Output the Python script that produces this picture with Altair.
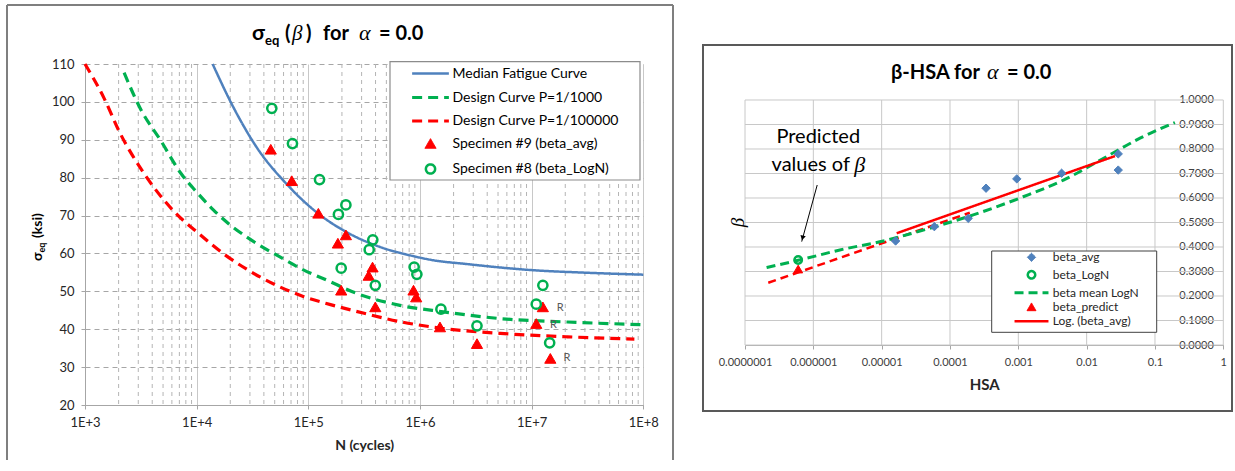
import json
import altair as alt
import pandas as pd

# ---------------- left panel data ----------------
left_series = ["Median Fatigue Curve", "Design Curve P=1/1000", "Design Curve P=1/100000",
               "Specimen #9 (beta_avg)", "Specimen #8 (beta_LogN)"]

median_N = [1.39e4, 2.14e4, 3.45e4, 6.4e4, 1.23e5, 2.21e5, 4.4e5, 8.7e5, 1.26e6, 2.63e6, 1.0e7, 3.16e7, 1.0e8]
median_S = [110, 98.5, 88.0, 78.3, 70.5, 65.6, 61.7, 59.3, 58.3, 57.2, 55.6, 54.9, 54.4]

design1000_N = [2.24e3, 3.16e3, 4.79e3, 7.08e3, 1.0e4, 1.41e4, 2.0e4, 2.82e4, 5.62e4, 9.12e4,
                1.48e5, 2.63e5, 6.61e5, 1.62e6, 5.25e6, 2.09e7, 1.0e8]
design1000_S = [107.7, 98, 89.7, 81.5, 76.2, 71.5, 67.5, 64.3, 59.0, 55.6, 52.9, 49.6, 46.3, 44.6, 42.8, 41.9, 41.2]

design100000_N = [1.0e3, 1.48e3, 2.04e3, 3.31e3, 6.31e3, 1.07e4, 1.82e4, 2.82e4, 5.01e4, 9.12e4,
                  1.58e5, 3.16e5, 6.61e5, 1.62e6, 5.25e6, 2.09e7, 8.32e7]
design100000_S = [110, 101, 92, 81.5, 71, 65, 59.5, 55.8, 51.8, 48.6, 46.5, 44.2, 42.0, 40.2, 38.9, 38.0, 37.4]

spec9_N = [4.61e4, 7.11e4, 1.23e5, 1.84e5, 2.17e5, 1.97e5, 3.47e5, 3.76e5, 3.98e5, 8.75e5,
           9.25e5, 1.51e6, 3.24e6, 1.10e7, 1.26e7, 1.47e7]
spec9_S = [87.5, 79.2, 70.6, 62.7, 64.9, 50.3, 54.2, 56.4, 45.9, 50.3, 48.5, 40.6, 36.2, 41.5, 45.9, 32.3]

spec8_N = [4.71e4, 7.21e4, 1.26e5, 1.86e5, 2.17e5, 3.51e5, 3.78e5, 1.97e5, 3.98e5, 8.87e5,
           9.38e5, 1.54e6, 3.24e6, 1.10e7, 1.26e7, 1.45e7]
spec8_S = [98.3, 89.0, 79.5, 70.3, 72.8, 61.0, 63.6, 56.1, 51.6, 56.4, 54.5, 45.3, 40.9, 46.6, 51.6, 36.4]

runout_N = [1.80e7, 1.57e7, 2.07e7]
runout_S = [45.7, 41.2, 32.3]
runout_text = ["R", "R", "R"]

left_x_ticks = [1e3, 1e4, 1e5, 1e6, 1e7, 1e8]
left_minor_ticks = [m * 10 ** k for k in range(3, 8) for m in range(2, 10)]
left_y_ticks = [20, 30, 40, 50, 60, 70, 80, 90, 100, 110]

# ---------------- right panel data ----------------
right_series = ["beta_avg", "beta_LogN", "beta mean LogN", "beta_predict", "Log. (beta_avg)"]

avg_HSA = [1.6e-5, 5.9e-5, 1.85e-4, 3.37e-4, 9.5e-4, 4.3e-3, 2.9e-2, 2.9e-2]
avg_beta = [0.4245, 0.483, 0.517, 0.640, 0.678, 0.701, 0.780, 0.714]
logn_HSA = [6.0e-7]
logn_beta = [0.347]
predict_HSA = [6.0e-7]
predict_beta = [0.31]
mean_logn_HSA = [2.07e-7, 8.0e-7, 2.45e-6, 1.06e-5, 4.07e-5, 2.19e-4, 1.18e-3, 4.57e-3, 1.96e-2, 6.04e-2, 1.96e-1]
mean_logn_beta = [0.316, 0.354, 0.388, 0.4245, 0.469, 0.531, 0.605, 0.673, 0.769, 0.844, 0.908]
trend_HSA = [1.66e-5, 2.6e-2]
trend_beta = [0.456, 0.771]
predict_line_HSA = [2.19e-7, 1.95e-4]
predict_line_beta = [0.254, 0.54]

right_x_ticks = [1e-7, 1e-6, 1e-5, 1e-4, 1e-3, 1e-2, 1e-1, 1]
right_x_labels = ["0.0000001", "0.000001", "0.00001", "0.0001", "0.001", "0.01", "0.1", "1"]
right_y_ticks = [0.0, 0.1, 0.2, 0.3, 0.4, 0.5, 0.6, 0.7, 0.8, 0.9, 1.0]
right_grid_bottom = 0.0
right_grid_top = 1.0

annot_HSA = [1.18e-6]
annot_line1_beta = [0.85]
annot_line2_beta = [0.735]
arrow_HSA = [1.14e-6]
arrow_beta = [0.653]
arrow_end_HSA = [6.76e-7]
arrow_end_beta = [0.422]
arrow_head_HSA = [6.95e-7]
arrow_head_beta = [0.437]

# ---------------- styling ----------------
FONT = "Lato, 'Noto Sans', sans-serif"
GREEK_IT = "'Liberation Serif', 'DejaVu Serif', serif"
BLUE = "#4f81bd"
GREEN = "#00b050"
RED = "#ff0000"
one = pd.DataFrame({"k": [0]})


def txt(s, x, y, size, weight="normal", style="normal", font=FONT, align="left",
        angle=0, color="black", baseline="alphabetic"):
    return alt.Chart(one).mark_text(
        text=s, align=align, baseline=baseline, font=font, fontSize=size,
        fontWeight=weight, fontStyle=style, angle=angle, color=color
    ).encode(x=alt.value(x), y=alt.value(y))


def hrule(x1, x2, y, color, w, opacity=1):
    return alt.Chart(one).mark_rule(color=color, strokeWidth=w, strokeOpacity=opacity).encode(
        x=alt.value(x1), x2=alt.value(x2), y=alt.value(y))


def vrule(x, y1, y2, color, w, opacity=1):
    return alt.Chart(one).mark_rule(color=color, strokeWidth=w, strokeOpacity=opacity).encode(
        x=alt.value(x), y=alt.value(y1), y2=alt.value(y2))


def box(x1, y1, x2, y2, fill, stroke, w):
    return alt.Chart(one).mark_rect(fill=fill, stroke=stroke, strokeWidth=w).encode(
        x=alt.value(x1), x2=alt.value(x2), y=alt.value(y1), y2=alt.value(y2))


# ================= LEFT PANEL =================
def long(series, xs, ys):
    return [{"series": series, "N": x, "S": y} for x, y in zip(xs, ys)]

left_lines_df = pd.DataFrame(
    long(left_series[0], median_N, median_S)
    + long(left_series[1], design1000_N, design1000_S)
    + long(left_series[2], design100000_N, design100000_S))
left_pts_df = pd.DataFrame(
    long(left_series[3], spec9_N, spec9_S) + long(left_series[4], spec8_N, spec8_S))
runout_df = pd.DataFrame({"N": runout_N, "S": runout_S, "t": runout_text})
minor_df = pd.DataFrame({"N": left_minor_ticks})

LX = alt.X("N:Q", scale=alt.Scale(type="log", domain=[1e3, 1e8], nice=False),
           axis=alt.Axis(values=left_x_ticks, labelExpr="'1E+' + round(log(datum.value)/LN10)",
                         grid=True, gridColor="#c8c8c8", gridWidth=1, labelOverlap=False, labelFlush=False,
                         domainColor="#a6a6a6", tickColor="#a6a6a6", tickSize=4, labelPadding=7,
                         labelFont=FONT, labelFontSize=13, labelColor="#262626",
                         title="N (cycles)", titleFont=FONT, titleFontSize=14, titleFontWeight="bold",
                         titleColor="#262626", titlePadding=9))
LY = alt.Y("S:Q", scale=alt.Scale(domain=[20, 110], nice=False),
           axis=alt.Axis(values=left_y_ticks, grid=True, gridDash=[5, 4], gridColor="#a6a6a6",
                         domainColor="#a6a6a6", tickColor="#a6a6a6", tickSize=4, labelPadding=7,
                         labelOverlap=False, labelFlush=False,
                         labelFont=FONT, labelFontSize=13, labelColor="#262626", title=None))

leg_left = alt.Legend(orient="none", legendX=337.5, legendY=2, title=None, labelFont=FONT,
                      labelFontSize=14, labelColor="black", labelOffset=14, rowPadding=8.5, padding=0,
                      labelLimit=400)
l_stroke = alt.Scale(domain=left_series, range=[BLUE, GREEN, RED, RED, GREEN])
l_fill = alt.Scale(domain=left_series, range=["transparent", "transparent", "transparent", RED, "transparent"])
l_dash = alt.Scale(domain=left_series, range=[[1, 0], [10, 6], [10, 6], [1, 0], [1, 0]])
l_shape = alt.Scale(domain=left_series, range=["M-3,0H3", "M-3,0H3", "M-3,0H3", "triangle-up", "circle"])
l_size = alt.Scale(type="ordinal", domain=left_series, range=[150, 150, 150, 125, 85])
l_sw = alt.Scale(type="ordinal", domain=left_series, range=[2.5, 3.2, 3.2, 1, 2.5])

minor_rules = alt.Chart(minor_df).mark_rule(color="#b4b4b4", strokeWidth=1, strokeDash=[4, 4]).encode(x=LX)
left_legend_box = box(305, -2.3, 555, 116, "white", "#8c8c8c", 1.2)

left_line_layer = alt.Chart(left_lines_df).mark_line(interpolate="monotone").encode(
    x=LX, y=LY,
    stroke=alt.Stroke("series:N", scale=l_stroke, legend=leg_left),
    strokeDash=alt.StrokeDash("series:N", scale=l_dash, legend=leg_left),
    strokeWidth=alt.StrokeWidth("series:N", scale=l_sw, legend=leg_left),
)
left_pt_layer = alt.Chart(left_pts_df).mark_point(opacity=1).encode(
    x=LX, y=LY,
    stroke=alt.Stroke("series:N", scale=l_stroke, legend=leg_left),
    fill=alt.Fill("series:N", scale=l_fill, legend=leg_left),
    shape=alt.Shape("series:N", scale=l_shape, legend=leg_left),
    size=alt.Size("series:N", scale=l_size, legend=leg_left),
    strokeWidth=alt.StrokeWidth("series:N", scale=l_sw, legend=leg_left),
)
runout_layer = alt.Chart(runout_df).mark_text(font=FONT, fontSize=11, color="#595959",
                                              align="center", baseline="middle").encode(
    x=LX, y=LY, text="t:N")

left_deco = [
    txt("σ", 167, -24, 21, weight="bold"),
    txt("eq", 180, -19, 13, weight="bold"),
    txt("(", 200, -24, 20, weight="bold"),
    txt("β", 207, -24, 21, style="italic", font=GREEK_IT),
    txt(")", 221, -24, 20, weight="bold"),
    txt("for", 238, -24, 20, weight="bold"),
    txt("α", 274, -24, 22, style="italic", font=GREEK_IT),
    txt("= 0.0", 294, -24, 20, weight="bold"),
    txt("σ", -43, 197, 14, weight="bold", angle=270),
    txt("eq", -40, 188.5, 9, weight="bold", angle=270),
    txt("(ksi)", -43, 174, 14, weight="bold", angle=270),
    hrule(-78, 588, -59, "#7f7f7f", 2),
    vrule(-78, -59, 396, "#7f7f7f", 2),
    vrule(588, -59, 396, "#7f7f7f", 2),
]

left = alt.layer(minor_rules, left_legend_box, left_line_layer, left_pt_layer, runout_layer,
                 *left_deco).properties(width=558.3, height=341)

# ================= RIGHT PANEL =================
def rlong(series, xs, ys):
    return [{"rseries": series, "HSA": x, "B": y} for x, y in zip(xs, ys)]

right_lines_df = pd.DataFrame(rlong(right_series[2], mean_logn_HSA, mean_logn_beta)
                              + rlong(right_series[4], trend_HSA, trend_beta))
right_pts_df = pd.DataFrame(rlong(right_series[0], avg_HSA, avg_beta)
                            + rlong(right_series[1], logn_HSA, logn_beta)
                            + rlong(right_series[3], predict_HSA, predict_beta))
pred_line_df = pd.DataFrame({"HSA": predict_line_HSA, "B": predict_line_beta})
rgrid_x_df = pd.DataFrame({"HSA": right_x_ticks,
                           "B": [right_grid_bottom] * len(right_x_ticks),
                           "B2": [right_grid_top] * len(right_x_ticks)})
rgrid_y_df = pd.DataFrame({"B": right_y_ticks})
annot1_df = pd.DataFrame({"HSA": annot_HSA, "B": annot_line1_beta})
annot2_df = pd.DataFrame({"HSA": annot_HSA, "B": annot_line2_beta})
arrow_df = pd.DataFrame({"HSA": arrow_HSA, "B": arrow_beta, "HSA2": arrow_end_HSA, "B2": arrow_end_beta})
head_df = pd.DataFrame({"HSA": arrow_head_HSA, "B": arrow_head_beta})

RX = alt.X("HSA:Q", scale=alt.Scale(type="log", domain=[1e-7, 1], nice=False),
           axis=alt.Axis(values=right_x_ticks,
                         labelExpr=json.dumps(right_x_labels) + "[round(log(datum.value)/LN10)+7]",
                         grid=False, domainColor="#a6a6a6", tickColor="#a6a6a6", tickSize=4,
                         labelOverlap=False, labelFlush=False,
                         labelPadding=7, labelFont=FONT, labelFontSize=11, labelColor="#404040",
                         title="HSA", titleFont=FONT, titleFontSize=15, titleFontWeight="bold",
                         titleColor="#262626", titlePadding=10))
RY = alt.Y("B:Q", scale=alt.Scale(domain=[0, 1.1469], nice=False),
           axis=alt.Axis(orient="left", offset=-478.3, values=right_y_ticks, format=".4f",
                         grid=False, domain=False, ticks=False, labelPadding=10, labelOverlap=False,
                         labelFlush=False, labelBound=False,
                         labelFont=FONT, labelFontSize=11, labelColor="#404040", title=None))

leg_right = alt.Legend(orient="none", legendX=279, legendY=187.3, title=None, labelFont=FONT,
                       labelFontSize=12, labelColor="#262626", labelOffset=13.7, rowPadding=1.5, padding=0,
                       labelLimit=400)
r_stroke = alt.Scale(domain=right_series, range=[BLUE, GREEN, GREEN, RED, RED])
r_fill = alt.Scale(domain=right_series, range=[BLUE, "transparent", "transparent", RED, "transparent"])
r_dash = alt.Scale(domain=right_series, range=[[1, 0], [1, 0], [9, 5], [1, 0], [1, 0]])
r_shape = alt.Scale(domain=right_series, range=["diamond", "circle", "M-3,0H3", "triangle-up", "M-3,0H3"])
r_size = alt.Scale(type="ordinal", domain=right_series, range=[70, 55, 128, 80, 128])
r_sw = alt.Scale(type="ordinal", domain=right_series, range=[1, 2.5, 3, 1, 2.5])

rgrid_x = alt.Chart(rgrid_x_df).mark_rule(color="#c8c8c8", strokeWidth=1).encode(
    x=RX, y=RY, y2="B2:Q")
rgrid_y = alt.Chart(rgrid_y_df).mark_rule(color="#c8c8c8", strokeWidth=1).encode(y=RY)
right_legend_box = box(246.7, 187, 411.7, 268.3, "white", "#404040", 1)

pred_line = alt.Chart(pred_line_df).mark_line(color=RED, strokeWidth=2.5, strokeDash=[8, 5]).encode(
    x=RX, y=RY)
right_line_layer = alt.Chart(right_lines_df).mark_line(interpolate="monotone").encode(
    x=RX, y=RY,
    stroke=alt.Stroke("rseries:N", scale=r_stroke, legend=leg_right),
    strokeDash=alt.StrokeDash("rseries:N", scale=r_dash, legend=leg_right),
    strokeWidth=alt.StrokeWidth("rseries:N", scale=r_sw, legend=leg_right),
)
right_pt_layer = alt.Chart(right_pts_df).mark_point(opacity=1).encode(
    x=RX, y=RY,
    stroke=alt.Stroke("rseries:N", scale=r_stroke, legend=leg_right),
    fill=alt.Fill("rseries:N", scale=r_fill, legend=leg_right),
    shape=alt.Shape("rseries:N", scale=r_shape, legend=leg_right),
    size=alt.Size("rseries:N", scale=r_size, legend=leg_right),
    strokeWidth=alt.StrokeWidth("rseries:N", scale=r_sw, legend=leg_right),
)
annot1 = alt.Chart(annot1_df).mark_text(text="Predicted", font=FONT, fontSize=20, color="black",
                                        align="center", baseline="middle").encode(x=RX, y=RY)
annot2a = alt.Chart(annot2_df).mark_text(text="values of", font=FONT, fontSize=20, color="black",
                                         align="right", baseline="middle", dx=31.7).encode(x=RX, y=RY)
annot2b = alt.Chart(annot2_df).mark_text(text="β", font=GREEK_IT, fontStyle="italic", fontSize=22,
                                         color="black", align="left", baseline="middle", dx=36).encode(x=RX, y=RY)
arrow = alt.Chart(arrow_df).mark_rule(color="black", strokeWidth=1).encode(
    x=RX, y=RY, x2="HSA2:Q", y2="B2:Q")
arrow_head = alt.Chart(head_df).mark_point(shape="triangle-down", filled=True, color="black",
                                           size=30, angle=15, opacity=1).encode(x=RX, y=RY)

right_deco = [
    txt("β-HSA for", 146, 15, 20, weight="bold"),
    txt("α", 242, 15, 22, style="italic", font=GREEK_IT),
    txt("= 0.0", 262, 15, 20, weight="bold"),
    txt("β", -7.5, 158.5, 19, style="italic", font=GREEK_IT, angle=270, align="center", baseline="middle"),
    box(-42, -19, 487, 347, "transparent", "#595959", 2),
    vrule(-42, -59, -25, "white", 2, opacity=0),
]

right = alt.layer(rgrid_x, rgrid_y, right_legend_box, pred_line, right_line_layer, right_pt_layer,
                  annot1, annot2a, annot2b, arrow, arrow_head, *right_deco
                  ).properties(width=478.3, height=281)

ind = "independent"
chart = alt.hconcat(left, right, spacing=28).resolve_scale(
    x=ind, y=ind, stroke=ind, fill=ind, shape=ind, size=ind, strokeWidth=ind, strokeDash=ind
).resolve_legend(
    stroke=ind, fill=ind, shape=ind, size=ind, strokeWidth=ind, strokeDash=ind
).properties(
    padding={"left": 6, "top": 4, "right": 2, "bottom": 5}
).configure_view(strokeWidth=0)

chart.save("out.html", embed_options={"renderer": "svg", "actions": False})
